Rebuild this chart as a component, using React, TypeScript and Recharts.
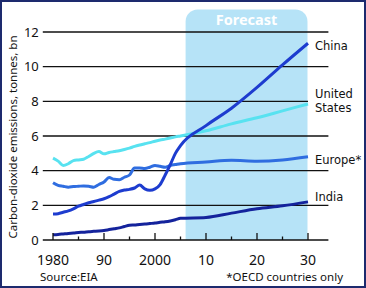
import {
  LineChart,
  Line,
  XAxis,
  YAxis,
  ReferenceArea,
  ReferenceLine,
  LabelList,
} from 'recharts';

const FONT = '"Noto Sans", "DejaVu Sans", sans-serif';
const LABEL_FONT = '"DejaVu Sans", sans-serif';

// years: annual history to 2005, then 5-yearly forecast
const years = [
  1980, 1981, 1982, 1983, 1984, 1985, 1986, 1987, 1988, 1989,
  1990, 1991, 1992, 1993, 1994, 1995, 1996, 1997, 1998, 1999,
  2000, 2001, 2002, 2003, 2004, 2005,
  2010, 2015, 2020, 2025, 2030,
];

const china = [
  1.5, 1.52, 1.6, 1.68, 1.8, 1.95, 2.05, 2.15, 2.22, 2.3,
  2.38, 2.5, 2.65, 2.8, 2.88, 2.92, 3.0, 3.17, 2.95, 2.87,
  2.95, 3.2, 3.75, 4.35, 5.0, 5.45,
  6.6, 7.6, 8.8, 10.1, 11.35,
];

const unitedStates = [
  4.72, 4.55, 4.3, 4.4, 4.58, 4.62, 4.66, 4.82, 5.0, 5.1,
  4.97, 5.05, 5.1, 5.15, 5.22, 5.3, 5.4, 5.48, 5.55, 5.62,
  5.7, 5.77, 5.82, 5.88, 5.95, 6.0,
  6.3, 6.7, 7.05, 7.45, 7.85,
];

const europe = [
  3.3, 3.15, 3.1, 3.05, 3.08, 3.1, 3.12, 3.1, 3.05, 3.2,
  3.35, 3.6, 3.5, 3.48, 3.62, 3.75, 4.15, 4.15, 4.12, 4.2,
  4.3, 4.25, 4.2, 4.3, 4.35, 4.4,
  4.5, 4.6, 4.55, 4.62, 4.8,
];

const india = [
  0.3, 0.32, 0.35, 0.38, 0.4, 0.43, 0.45, 0.48, 0.5, 0.52,
  0.55, 0.6, 0.65, 0.7, 0.78, 0.85, 0.87, 0.9, 0.92, 0.95,
  0.98, 1.02, 1.05, 1.1, 1.17, 1.25,
  1.3, 1.55, 1.8, 1.97, 2.2,
];

const xTicks = [1980, 1985, 1990, 1995, 2000, 2005, 2010, 2015, 2020, 2025, 2030];
const xTickLabels = ['1980', '', '90', '', '2000', '', '10', '', '20', '', '30'];
const yTicks = [0, 2, 4, 6, 8, 10, 12];
const gridValues = [2, 4, 6, 8, 10, 12];

const data = years.map((year, i) => ({
  year,
  china: china[i],
  us: unitedStates[i],
  europe: europe[i],
  india: india[i],
}));

function XTick(props: any) {
  const { x, y, payload, index } = props;
  const major = payload.value % 10 === 0;
  return (
    <g>
      <line x1={x} x2={x} y1={y} y2={y - (major ? 7 : 3.5)} stroke="#111" strokeWidth={1.3} />
      {xTickLabels[index] ? (
        <text x={x} y={y + 24.5} textAnchor="middle" fontSize={14} fill="#111" fontFamily={FONT}>
          {xTickLabels[index]}
        </text>
      ) : null}
    </g>
  );
}

// name label at the last point of a series
function endLabel(lines: string[], dy: number) {
  return (props: any) => {
    const { x, y, index } = props;
    if (index !== years.length - 1) return null;
    return (
      <g>
        {lines.map((t, i) => (
          <text
            key={i}
            x={x + 7}
            y={y + dy + i * 13.6}
            fontSize={11.5}
            fill="#111"
            fontFamily={LABEL_FONT}
          >
            {t}
          </text>
        ))}
      </g>
    );
  };
}

export default function App() {
  return (
    <div
      style={{
        position: 'absolute',
        left: 0,
        top: 0,
        width: 366,
        height: 288,
        background: '#fff',
        fontFamily: FONT,
      }}
    >
      <LineChart
        width={366}
        height={288}
        data={data}
        margin={{ top: 32, right: 37.6, bottom: 0, left: 0 }}
      >
        <ReferenceArea
          x1={2006}
          x2={2029.9}
          y1={0}
          y2={13.3}
          ifOverflow="visible"
          fill="#b6e3f7"
          fillOpacity={1}
          stroke="none"
          radius={[12, 12, 0, 0]}
          label={{
            value: 'Forecast',
            position: 'insideTop',
            offset: 5,
            fill: '#fff',
            fontSize: 14.5,
            fontWeight: 'bold',
            fontFamily: FONT,
          }}
        />
        {gridValues.map((v) => (
          <ReferenceLine
            key={v}
            segment={[
              { x: 1978, y: v },
              { x: v === 8 ? 2030 : 2034, y: v },
            ]}
            stroke="#111"
            strokeWidth={1.3}
            ifOverflow="visible"
          />
        ))}
        <XAxis
          dataKey="year"
          type="number"
          domain={[1978, 2034]}
          ticks={xTicks}
          interval={0}
          tickSize={0}
          tickMargin={0}
          tickLine={false}
          axisLine={{ stroke: '#111', strokeWidth: 1.5 }}
          tick={<XTick />}
          height={48}
        />
        <YAxis
          type="number"
          domain={[0, 12]}
          ticks={yTicks}
          interval={0}
          width={42.8}
          tickSize={0}
          tickMargin={4}
          axisLine={false}
          tickLine={false}
          tick={{ fill: '#111', fontSize: 13, fontFamily: FONT }}
        />
        <Line dataKey="us" type="monotone" stroke="#58e2f0" strokeWidth={3} dot={false} isAnimationActive={false}>
          <LabelList content={endLabel(['United', 'States'], -5.5)} />
        </Line>
        <Line dataKey="europe" type="monotone" stroke="#2f6de0" strokeWidth={3} dot={false} isAnimationActive={false}>
          <LabelList content={endLabel(['Europe*'], 7)} />
        </Line>
        <Line dataKey="china" type="monotone" stroke="#1d3ccf" strokeWidth={3} dot={false} isAnimationActive={false}>
          <LabelList content={endLabel(['China'], 7)} />
        </Line>
        <Line dataKey="india" type="monotone" stroke="#14239c" strokeWidth={3} dot={false} isAnimationActive={false}>
          <LabelList content={endLabel(['India'], -0.5)} />
        </Line>
      </LineChart>

      <svg
        width={366}
        height={288}
        style={{ position: 'absolute', left: 0, top: 0, pointerEvents: 'none' }}
      >
        <text
          transform="translate(16.5,137) rotate(-90)"
          textAnchor="middle"
          fontSize={11.5}
          fill="#111"
          fontFamily={FONT}
        >
          Carbon-dioxide emissions, tonnes, bn
        </text>
        <text x={40} y={280.5} fontSize={11.5} fill="#111" fontFamily={FONT}>
          Source:EIA
        </text>
        <text x={343} y={280.5} textAnchor="end" fontSize={11.5} fill="#111" fontFamily={FONT}>
          *OECD countries only
        </text>
        <rect x={1} y={1} width={364} height={286} fill="none" stroke="#1d2a6e" strokeWidth={2} />
      </svg>
    </div>
  );
}
